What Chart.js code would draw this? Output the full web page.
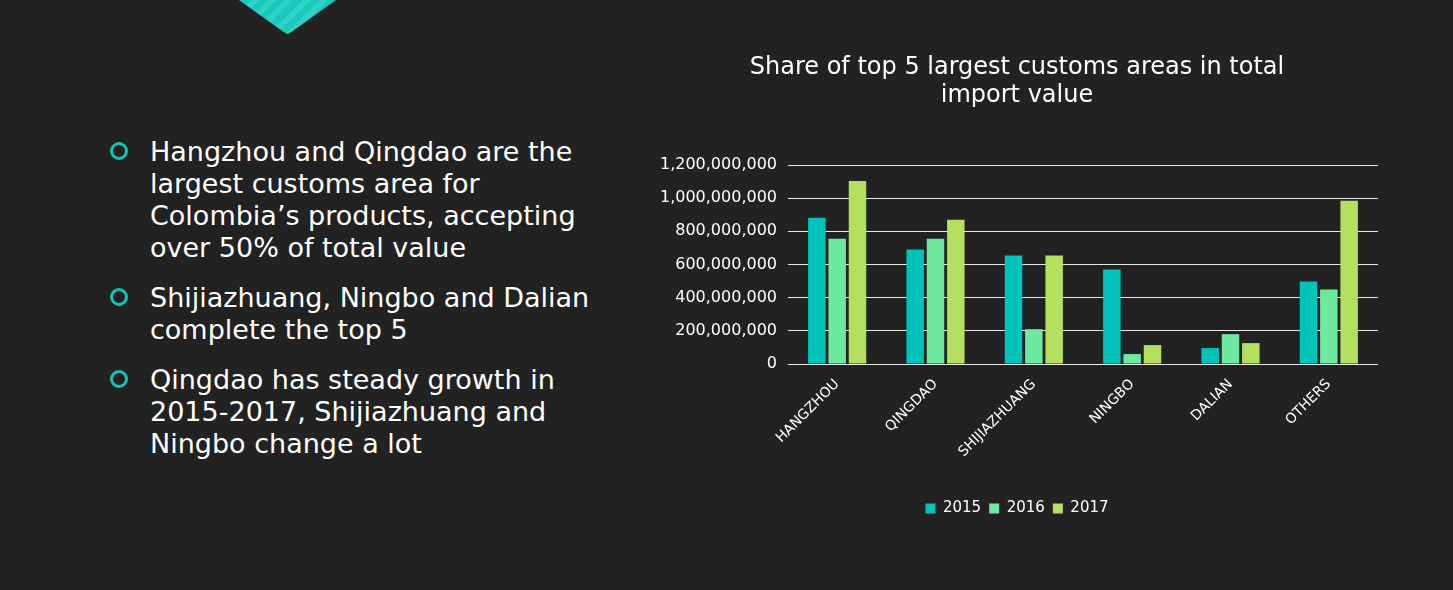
<!DOCTYPE html>
<html><head><meta charset="utf-8">
<script src="https://cdn.jsdelivr.net/npm/chart.js@4.4.0/dist/chart.umd.min.js"></script>
<style>
html,body{margin:0;padding:0;background:#222222;width:1453px;height:590px;overflow:hidden;font-family:"DejaVu Sans",sans-serif;}
#deco{position:absolute;left:239px;top:0;width:97px;height:34px;clip-path:polygon(0 0,100% 0,54% 94%,50% 100%,46% 94%);background:repeating-linear-gradient(-45deg,#1bc8bd 0 6px,#30d2c8 6px 12px);}
ul{position:absolute;left:108px;top:136px;margin:0;padding:0;list-style:none;color:#fff;font-size:27px;line-height:32px;}
li{position:relative;padding-left:42px;margin-bottom:18px;white-space:nowrap;}
li::before{content:"";position:absolute;left:2px;top:6px;width:12px;height:12px;border:3px solid #14c3b8;border-radius:50%;}
#wrap{position:absolute;left:656px;top:40px;width:722px;height:490px;}
</style></head>
<body>
<div id="deco"></div>
<ul>
<li>Hangzhou and Qingdao are the<br>largest customs area for<br>Colombia’s products, accepting<br>over 50% of total value</li>
<li>Shijiazhuang, Ningbo and Dalian<br>complete the top 5</li>
<li>Qingdao has steady growth in<br>2015-2017, Shijiazhuang and<br>Ningbo change a lot</li>
</ul>
<div id="wrap"><canvas id="c" width="722" height="490"></canvas></div>
<script>
const categories = ["HANGZHOU","QINGDAO","SHIJIAZHUANG","NINGBO","DALIAN","OTHERS"];
const values2015 = [882e6, 690e6, 654e6, 570e6, 96e6, 498e6];
const values2016 = [756e6, 756e6, 210e6, 60e6, 180e6, 450e6];
const values2017 = [1104e6, 870e6, 654e6, 114e6, 126e6, 984e6];
const seriesLabels = ["2015","2016","2017"];
const seriesColors = ["#00c4ba","#6ee9a0","#b4e060"];
const titleLines = ["Share of top 5 largest customs areas in total","import value"];
const yTicks = [0, 200e6, 400e6, 600e6, 800e6, 1000e6, 1200e6];

const FONT = "'DejaVu Sans', sans-serif";
new Chart(document.getElementById('c'), {
  type: 'bar',
  data: {
    labels: categories,
    datasets: [values2015, values2016, values2017].map((d, i) => ({
      label: seriesLabels[i], data: d, backgroundColor: seriesColors[i],
      categoryPercentage: 0.62, barPercentage: 0.86
    }))
  },
  options: {
    responsive: false, animation: false,
    layout: { padding: { left: 0, right: 0, top: 0, bottom: 4 } },
    plugins: {
      title: { display: true, text: titleLines, color: '#ffffff',
        font: { family: FONT, size: 24, weight: 'normal', lineHeight: 1.2 },
        padding: { top: 13, bottom: 54.4 } },
      legend: { position: 'bottom',
        labels: { color: '#ffffff', boxWidth: 10, boxHeight: 10, padding: 8,
          font: { family: FONT, size: 15 } } },
      tooltip: { enabled: false }
    },
    scales: {
      y: { min: 0, max: 1200e6,
        afterBuildTicks: s => { s.ticks = yTicks.map(v => ({ value: v })); },
        afterFit: s => { s.width = 132; },
        ticks: { color: '#ffffff', padding: 11, font: { family: FONT, size: 16 },
          callback: v => Number(v).toLocaleString('en-US') },
        grid: { color: '#e8e8e8', lineWidth: 1, drawTicks: false },
        border: { display: false } },
      x: { grid: { display: false }, border: { display: false },
        afterFit: s => { s.height = 129; },
        ticks: { color: '#ffffff', minRotation: 45, maxRotation: 45, padding: 4,
          font: { family: FONT, size: 14 } } }
    }
  }
});
</script>
</body></html>
